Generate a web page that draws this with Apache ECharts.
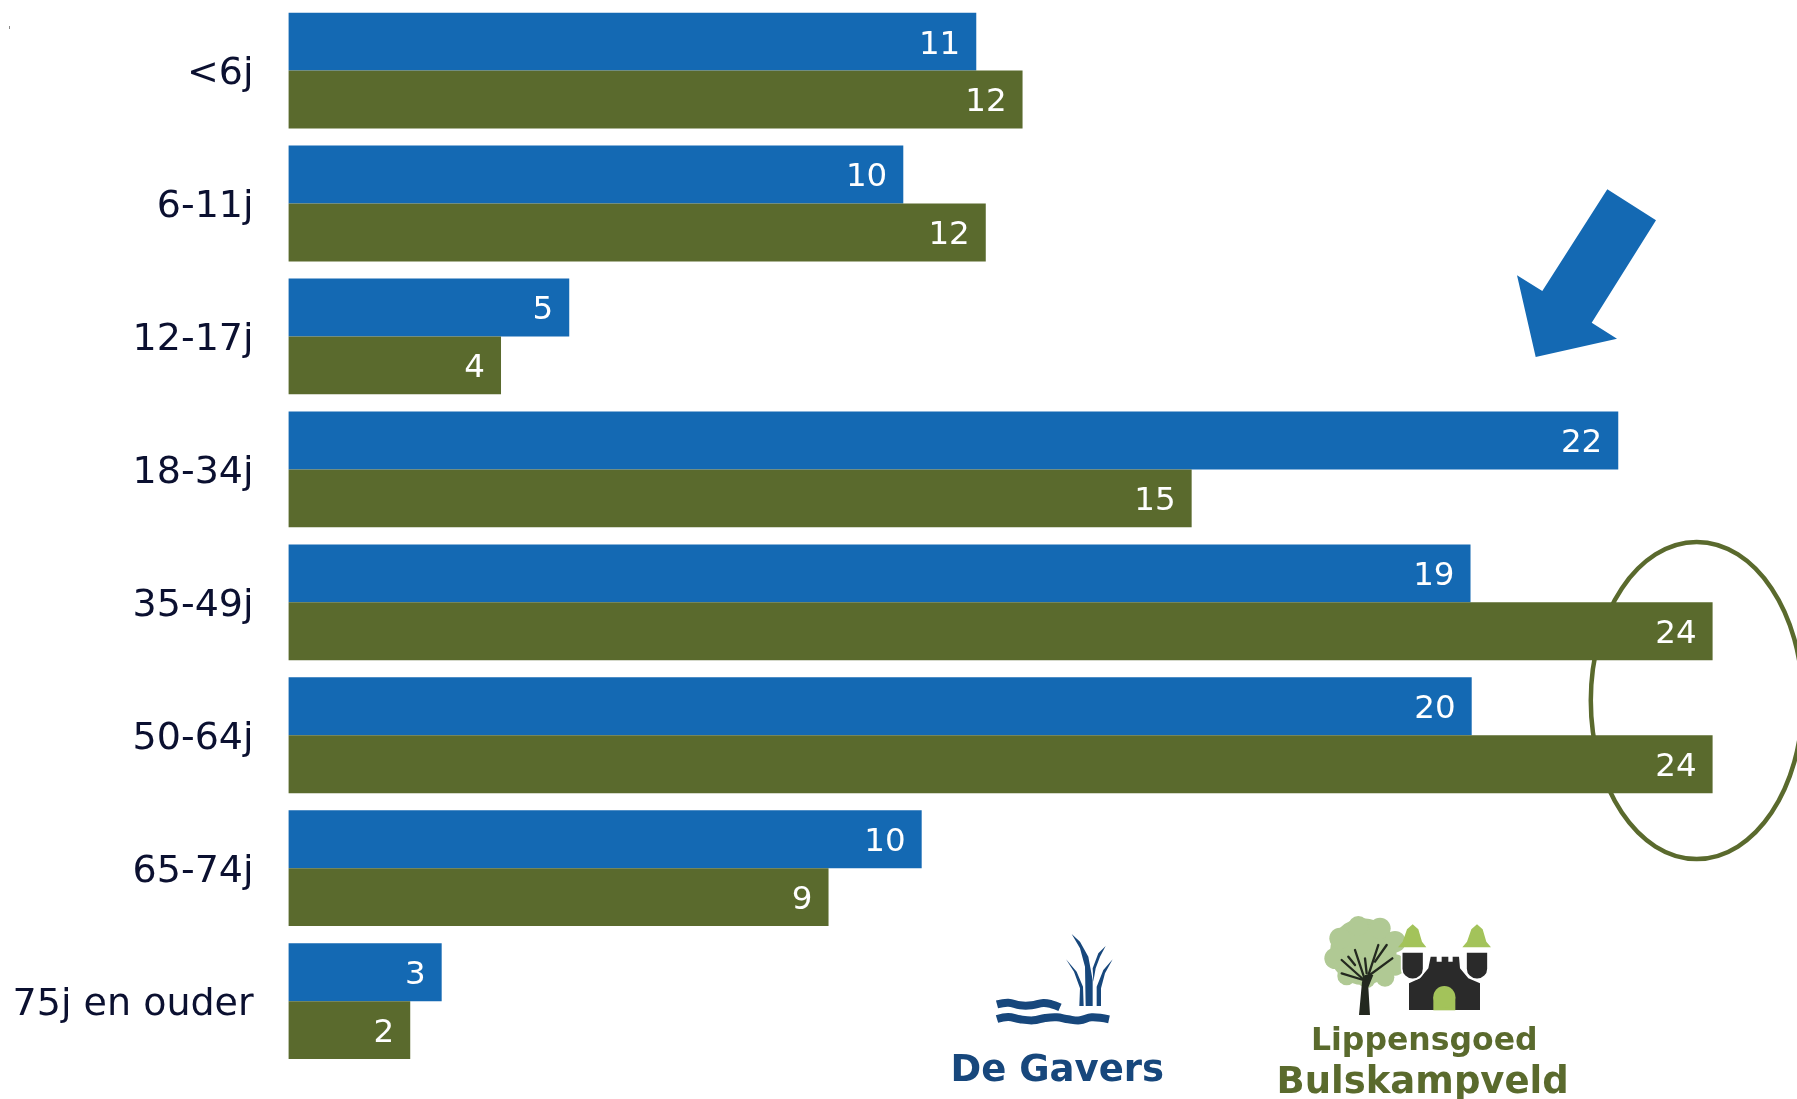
<!DOCTYPE html>
<html>
<head>
<meta charset="utf-8">
<title>Leeftijd</title>
<style>
  html, body { margin: 0; padding: 0; background: #fff; }
  #ageChart { width: 1797px; height: 1099px; }
</style>
<script src="https://cdn.jsdelivr.net/npm/echarts@6/dist/echarts.min.js"></script>
</head>
<body>
<div id="ageChart"></div>
<script>
  const categories = ['<6j', '6-11j', '12-17j', '18-34j', '35-49j', '50-64j', '65-74j', '75j en ouder'];

  // bar lengths, the printed numbers are rounded differently
  const gaversValues = [11.59, 10.36, 4.73, 22.41, 19.92, 19.94, 10.67, 2.58];
  const lippensValues = [12.37, 11.75, 3.58, 15.22, 24, 24, 9.1, 2.05];
  const gaversLabels = [11, 10, 5, 22, 19, 20, 10, 3];
  const lippensLabels = [12, 12, 4, 15, 24, 24, 9, 2];

  const BLUE = '#1469b3';
  const GREEN = '#5a6a2d';
  const NAVY = '#17477c';
  const LIGHT_GREEN = '#a3c35a';
  const CROWN = '#b0c994';
  const DARK = '#2a2a2a';

  function barLabel(labels) {
    return {
      show: true,
      position: 'insideRight',
      distance: 16,
      offset: [0, 3.5],
      color: '#fff',
      fontFamily: 'DejaVu Sans',
      fontSize: 32.5,
      formatter: function (p) { return labels[p.dataIndex]; },
    };
  }

  function poly(points, fill, smooth) {
    return { type: 'polygon', shape: { points: points, smooth: smooth || 0 }, style: { fill: fill } };
  }

  function stroke(points, color, width) {
    return {
      type: 'polyline',
      shape: { points: points, smooth: 0.4 },
      style: { stroke: color, lineWidth: width, fill: null, lineCap: 'butt' },
    };
  }

  function branch(points) {
    return {
      type: 'polyline',
      shape: { points: points },
      style: { stroke: '#23281f', lineWidth: 7, fill: null, lineCap: 'round' },
    };
  }

  function bump(cx, cy, r) {
    return { type: 'circle', shape: { cx: cx, cy: cy, r: r }, style: { fill: CROWN } };
  }

  // both logos are drawn in 3x crop coordinates, the group scales them back
  const gaversLogo = {
    type: 'group',
    x: 920,
    y: 900,
    scaleX: 1 / 3,
    scaleY: 1 / 3,
    children: [
      stroke([[231, 313], [265, 308], [300, 316], [335, 316], [370, 309], [395, 313], [420, 322]], NAVY, 24),
      stroke([[231, 357], [265, 351], [300, 358], [340, 361], [375, 354], [410, 352], [445, 358], [480, 361], [515, 352], [567, 358]], NAVY, 24),
      poly([[455, 102], [480, 145], [495, 200], [497, 318], [518, 318], [518, 240], [505, 170], [480, 125]], NAVY),
      poly([[438, 178], [462, 215], [480, 265], [478, 318], [491, 318], [489, 260], [470, 215]], NAVY),
      poly([[557, 138], [535, 160], [518, 205], [520, 245], [527, 205], [540, 170]], NAVY),
      poly([[578, 178], [550, 210], [530, 260], [530, 318], [543, 318], [543, 265], [555, 220]], NAVY),
    ],
  };

  const lippensLogo = {
    type: 'group',
    x: 1260,
    y: 900,
    scaleX: 1 / 3,
    scaleY: 1 / 3,
    children: [
      bump(310, 155, 100),
      bump(225, 175, 32),
      bump(240, 115, 32),
      bump(295, 78, 30),
      bump(360, 85, 32),
      bump(405, 125, 32),
      bump(405, 195, 32),
      bump(375, 232, 28),
      bump(320, 238, 26),
      bump(260, 228, 28),
      poly([[306, 245], [297, 345], [330, 345], [325, 262], [340, 225], [315, 225]], '#23281f'),
      branch([[315, 240], [285, 150]]),
      branch([[312, 240], [245, 180]]),
      branch([[322, 235], [355, 135]]),
      branch([[325, 228], [397, 175]]),
      branch([[310, 240], [245, 220]]),
      branch([[320, 220], [315, 175]]),
      branch([[345, 185], [380, 135]]),
      branch([[285, 195], [265, 170]]),
      poly([[447, 330], [447, 250], [480, 235], [505, 205], [512, 170], [530, 170], [530, 185], [545, 185], [545, 170], [565, 170], [565, 185], [578, 185], [578, 170], [597, 170], [600, 205], [625, 235], [660, 250], [660, 330]], DARK),
      { type: 'rect', shape: { x: 425, y: 156, width: 66, height: 82, r: [0, 0, 32, 32] }, style: { fill: DARK, stroke: '#fff', lineWidth: 5 } },
      { type: 'rect', shape: { x: 618, y: 156, width: 66, height: 82, r: [0, 0, 32, 32] }, style: { fill: DARK, stroke: '#fff', lineWidth: 5 } },
      poly([[441, 88], [458, 73], [475, 88], [486, 125], [499, 142], [414, 142], [428, 125]], LIGHT_GREEN),
      poly([[634, 88], [651, 73], [668, 88], [679, 125], [693, 142], [607, 142], [621, 125]], LIGHT_GREEN),
      { type: 'rect', shape: { x: 520, y: 290, width: 66, height: 41 }, style: { fill: LIGHT_GREEN } },
      { type: 'circle', shape: { cx: 553, cy: 291, r: 33 }, style: { fill: LIGHT_GREEN } },
    ],
  };

  function logoText(text, x, y, size, color) {
    return {
      type: 'text',
      x: x,
      y: y,
      style: {
        text: text,
        fill: color,
        font: 'bold ' + size + 'px "DejaVu Sans"',
        textAlign: 'left',
        textVerticalAlign: 'middle',
      },
    };
  }

  const myChart = echarts.init(document.getElementById('ageChart'));

  const option = {
    animation: false,
    backgroundColor: '#fff',
    grid: { left: 288.6, top: 4.1, width: 1424, height: 1063.5, containLabel: false },
    xAxis: { type: 'value', min: 0, max: 24, show: false },
    yAxis: {
      type: 'category',
      inverse: true,
      data: categories,
      axisLine: { show: false },
      axisTick: { show: false },
      axisLabel: {
        color: '#0b1030',
        fontFamily: 'DejaVu Sans',
        fontSize: 38,
        margin: 35,
        // small line box hung from the tick, pushes the text a little below the band centre
        verticalAlign: 'top',
        lineHeight: 7,
      },
    },
    series: [
      {
        name: 'De Gavers',
        type: 'bar',
        data: gaversValues,
        barWidth: 57.9,
        barGap: 0,
        itemStyle: { color: BLUE },
        label: barLabel(gaversLabels),
      },
      {
        name: 'Lippensgoed Bulskampveld',
        type: 'bar',
        data: lippensValues,
        barWidth: 57.9,
        barGap: 0,
        itemStyle: { color: GREEN },
        label: barLabel(lippensLabels),
      },
    ],
    graphic: [
      // the speck in the top left corner
      { type: 'rect', shape: { x: 9, y: 26, width: 1, height: 3 }, style: { fill: '#8a8a8a' } },
      poly([[1607.3, 189.3], [1656, 220.3], [1591.7, 322.7], [1617, 338.7], [1535.7, 357], [1517, 275.3], [1542.3, 291]], BLUE),
      {
        type: 'ellipse',
        shape: { cx: 1696.7, cy: 700.5, rx: 105.9, ry: 158.5 },
        style: { fill: null, stroke: GREEN, lineWidth: 4.5 },
      },
      gaversLogo,
      lippensLogo,
      logoText('De Gavers', 950.5, 1071.5, 37, NAVY),
      logoText('Lippensgoed', 1311, 1041.5, 31.5, GREEN),
      logoText('Bulskampveld', 1276.5, 1083.5, 37, GREEN),
    ],
  };

  myChart.setOption(option);
</script>
</body>
</html>
